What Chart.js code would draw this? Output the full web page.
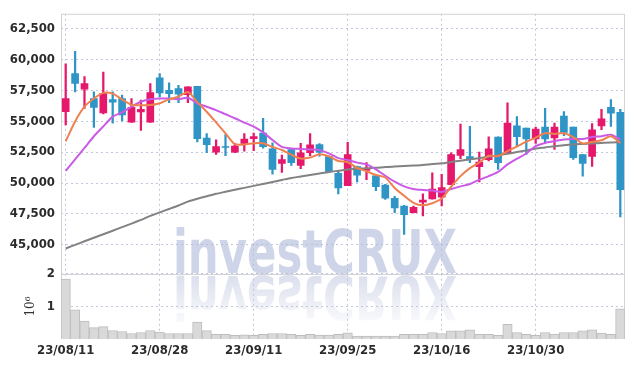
<!DOCTYPE html>
<html>
<head>
<meta charset="utf-8">
<script src="https://cdn.jsdelivr.net/npm/chart.js@4.4.0/dist/chart.umd.min.js"></script>
<style>
  html, body { margin: 0; padding: 0; background: #fff; }
  canvas { display: block; }
</style>
</head>
<body>
<canvas id="chart" width="634" height="366"></canvas>
<script>
var dates = ['23/08/11','23/08/14','23/08/16','23/08/17','23/08/18','23/08/21','23/08/22','23/08/23','23/08/24','23/08/25',
  '23/08/28','23/08/29','23/08/30','23/08/31','23/09/01','23/09/04','23/09/05','23/09/06','23/09/07','23/09/08',
  '23/09/11','23/09/12','23/09/13','23/09/14','23/09/15','23/09/18','23/09/19','23/09/20','23/09/21','23/09/22',
  '23/09/25','23/09/26','23/09/27','23/10/04','23/10/05','23/10/06','23/10/10','23/10/11','23/10/12','23/10/13',
  '23/10/16','23/10/17','23/10/18','23/10/19','23/10/20','23/10/23','23/10/24','23/10/25','23/10/26','23/10/27',
  '23/10/30','23/10/31','23/11/01','23/11/02','23/11/03','23/11/06','23/11/07','23/11/08','23/11/09','23/11/10'];

var open  = [55770,58850,57580,56830,55660,56750,56830,54920,55740,54920,
  58510,57500,57630,57150,57820,53640,52500,52950,52500,53210,
  53590,54040,52760,51590,52710,51430,52450,53110,52130,50790,
  49790,51330,51010,50590,49840,48770,48140,47600,48460,48720,
  48850,49860,52230,52130,51330,51880,53720,52450,54620,54440,
  53560,54520,53640,55420,54520,52310,52150,54620,56120,55720];
var high  = [59630,60640,58610,57370,58970,57370,57100,56830,56700,58030,
  58850,58110,57900,57770,57820,53990,53500,53910,53210,53990,
  54040,55240,53240,52260,52720,53210,53990,53190,52180,50990,
  53300,51380,51650,50640,49890,48930,48190,48140,49120,50820,
  50710,52450,54760,54580,52500,53740,53730,56490,55370,54450,
  54520,56040,54840,55770,54520,52310,54810,55960,56750,55960];
var low   = [54700,57370,56040,54500,55580,54840,55020,54900,54260,54900,
  56970,56490,56490,56490,53320,52450,52310,52220,52450,52580,
  52620,52820,50710,50850,51430,51160,52220,52180,50850,49120,
  49780,50100,50270,49390,48670,47600,45850,47580,47340,48700,
  48140,49860,51960,51650,50100,51780,51110,52440,52980,52310,
  53210,53240,52710,53830,51910,50550,51350,54310,54580,47260];
var close = [56830,58060,58030,56120,57230,56540,55500,56120,55960,57310,
  57290,57230,57180,57770,53590,53110,52950,52870,52980,53560,
  53750,52940,51110,51890,51650,52450,53080,52500,50900,49610,
  52290,50630,51170,49710,48770,47980,47440,48030,48620,49520,
  49630,52310,52710,51970,51700,52760,51650,54840,53740,53560,
  54360,53560,54520,54100,52050,51590,54310,55180,55640,49470];
// volume in millions of shares
var volume = [1.84,0.90,0.55,0.35,0.38,0.26,0.23,0.17,0.20,0.26,
  0.21,0.17,0.17,0.17,0.52,0.26,0.14,0.14,0.11,0.13,
  0.11,0.14,0.17,0.17,0.14,0.11,0.14,0.12,0.12,0.14,
  0.19,0.09,0.09,0.09,0.09,0.09,0.14,0.14,0.14,0.20,
  0.17,0.25,0.25,0.28,0.14,0.14,0.11,0.45,0.20,0.14,
  0.11,0.20,0.15,0.20,0.20,0.25,0.28,0.18,0.14,0.93];

var ma5  = [53380,54980,56170,56830,57290,57230,56750,56330,56290,56300,
  56450,56760,56980,57360,56540,55760,54900,54020,53140,53110,
  53220,53220,52920,52670,52290,51980,52060,52330,52160,51780,
  51680,51220,50950,50650,50450,49600,48970,48400,48200,48370,
  48740,49700,50560,51210,51660,52200,52180,52580,52950,53340,
  53670,54030,53970,54030,53720,53200,53330,53460,53780,53240];
var ma10 = [50990,51910,52840,53780,54580,55370,55720,56170,56570,56780,
  56830,56830,56780,56890,56440,56170,55890,55560,55240,54890,
  54560,54100,53480,52920,52800,52760,52710,52660,52400,52010,
  51860,51650,51510,51110,50590,50110,49730,49520,49440,49390,
  49280,49520,49730,49920,50270,50560,50900,51510,51970,52390,
  52980,53240,53380,53510,53560,53560,53720,53780,53910,53530];
var ma60 = [44710,45000,45290,45580,45860,46140,46440,46720,47020,47340,
  47630,47900,48180,48500,48730,48930,49130,49290,49450,49610,
  49770,49930,50090,50250,50410,50530,50650,50770,50890,50990,
  51090,51140,51190,51230,51290,51330,51370,51410,51450,51530,
  51590,51700,51810,51910,52010,52130,52250,52370,52500,52640,
  52790,52880,52980,53060,53120,53160,53200,53240,53280,53300];

var dateTicks = ['23/08/11','23/08/28','23/09/11','23/09/25','23/10/16','23/10/30'];
var priceTicks = [45000,47500,50000,52500,55000,57500,60000,62500];
var volumeTicks = [1,2];

var UP = '#e5186b', DOWN = '#2f95c7';
var candleColor = close.map(function (c, i) { return c >= open[i] ? UP : DOWN; });

var narrow = '"DejaVu Sans Condensed", "Liberation Sans Narrow", sans-serif';
var tickFont = { family: narrow, size: 13, weight: 'bold' };
var gridColor = 'rgba(175,180,210,0.75)';

var frame = {
  id: 'frame',
  beforeDatasetsDraw: function (chart) {
    var ctx = chart.ctx, a = chart.chartArea;
    var base = chart.scales.y.bottom;
    var x = a.left + 112, w = 284;
    ctx.save();
    ctx.font = 'bold 60px ' + narrow;
    var sx = w / ctx.measureText('investCRUX').width;
    ctx.translate(x, 0);
    ctx.scale(sx, 1);
    ctx.fillStyle = 'rgba(178,188,218,0.62)';
    ctx.fillText('investCRUX', 0, base - 1);
    ctx.translate(0, base + 2);
    ctx.scale(1, -1);
    var g = ctx.createLinearGradient(0, 0, 0, -44);
    g.addColorStop(0, 'rgba(190,198,222,0.55)');
    g.addColorStop(1, 'rgba(190,198,222,0.12)');
    ctx.fillStyle = g;
    ctx.fillText('investCRUX', 0, 0);
    ctx.restore();

    ctx.save();
    ctx.strokeStyle = '#d2d2d8';
    ctx.lineWidth = 1;
    ctx.strokeRect(a.left + 0.5, a.top + 0.5, a.right - a.left - 1, a.bottom - a.top - 1);
    ctx.beginPath();
    ctx.moveTo(a.left, Math.round(base) + 0.5);
    ctx.lineTo(a.right, Math.round(base) + 0.5);
    ctx.stroke();
    ctx.restore();
  }
};

new Chart(document.getElementById('chart'), {
  type: 'bar',
  data: {
    labels: dates,
    datasets: [
      { type: 'line', data: ma5, yAxisID: 'y', borderColor: '#ef8150', borderWidth: 2, pointRadius: 0, tension: 0.25 },
      { type: 'line', data: ma10, yAxisID: 'y', borderColor: '#c95be6', borderWidth: 2, pointRadius: 0, tension: 0.25 },
      { type: 'line', data: ma60, yAxisID: 'y', borderColor: '#828282', borderWidth: 2, pointRadius: 0, tension: 0.25 },
      { data: open.map(function (o, i) { return [o, close[i]]; }), yAxisID: 'y', grouped: false,
        backgroundColor: candleColor, barThickness: 7 },
      { data: low.map(function (l, i) { return [l, high[i]]; }), yAxisID: 'y', grouped: false,
        backgroundColor: candleColor, barThickness: 1.6 },
      { data: volume, yAxisID: 'yv', grouped: false, backgroundColor: '#d9d9d9',
        borderColor: '#bdbdbd', borderWidth: 1, barPercentage: 1, categoryPercentage: 1 }
    ]
  },
  options: {
    responsive: false,
    animation: false,
    devicePixelRatio: 1,
    layout: { padding: { top: 9, right: 9, left: 0, bottom: 0 } },
    plugins: { legend: { display: false }, tooltip: { enabled: false } },
    scales: {
      x: {
        offset: true,
        grid: { offset: false, color: gridColor, drawTicks: false },
        border: { display: false, dash: [2, 3] },
        afterBuildTicks: function (s) {
          s.ticks = dateTicks.map(function (d) { return { value: dates.indexOf(d) }; });
        },
        afterFit: function (s) { s.height = 27; },
        ticks: { autoSkip: false, maxRotation: 0, padding: 4, color: '#2b2b2b', font: tickFont }
      },
      yv: {
        position: 'left', stack: 'panes', stackWeight: 1, min: 0, max: 2,
        grid: { color: gridColor, drawTicks: false },
        border: { display: false, dash: [2, 3] },
        afterBuildTicks: function (s) {
          s.ticks = volumeTicks.map(function (v) { return { value: v }; });
        },
        afterFit: function (s) { s.width = 61; },
        title: { display: true, text: '10\u2076', color: '#333', padding: { top: 24, bottom: 0 },
          font: { family: '"DejaVu Serif", serif', size: 12 } },
        ticks: { autoSkip: false, padding: 6, color: '#2b2b2b', font: { family: narrow, size: 13, weight: 'bold' } }
      },
      y: {
        position: 'left', stack: 'panes', stackWeight: 4, min: 42650, max: 63680,
        grid: { color: gridColor, drawTicks: false },
        border: { display: false, dash: [2, 3] },
        afterBuildTicks: function (s) {
          s.ticks = priceTicks.map(function (v) { return { value: v }; });
        },
        afterFit: function (s) { s.width = 61; },
        ticks: {
          autoSkip: false, padding: 6, color: '#2b2b2b', font: tickFont,
          callback: function (v) { return v.toLocaleString('en-US'); }
        }
      }
    }
  },
  plugins: [frame]
});
</script>
</body>
</html>
